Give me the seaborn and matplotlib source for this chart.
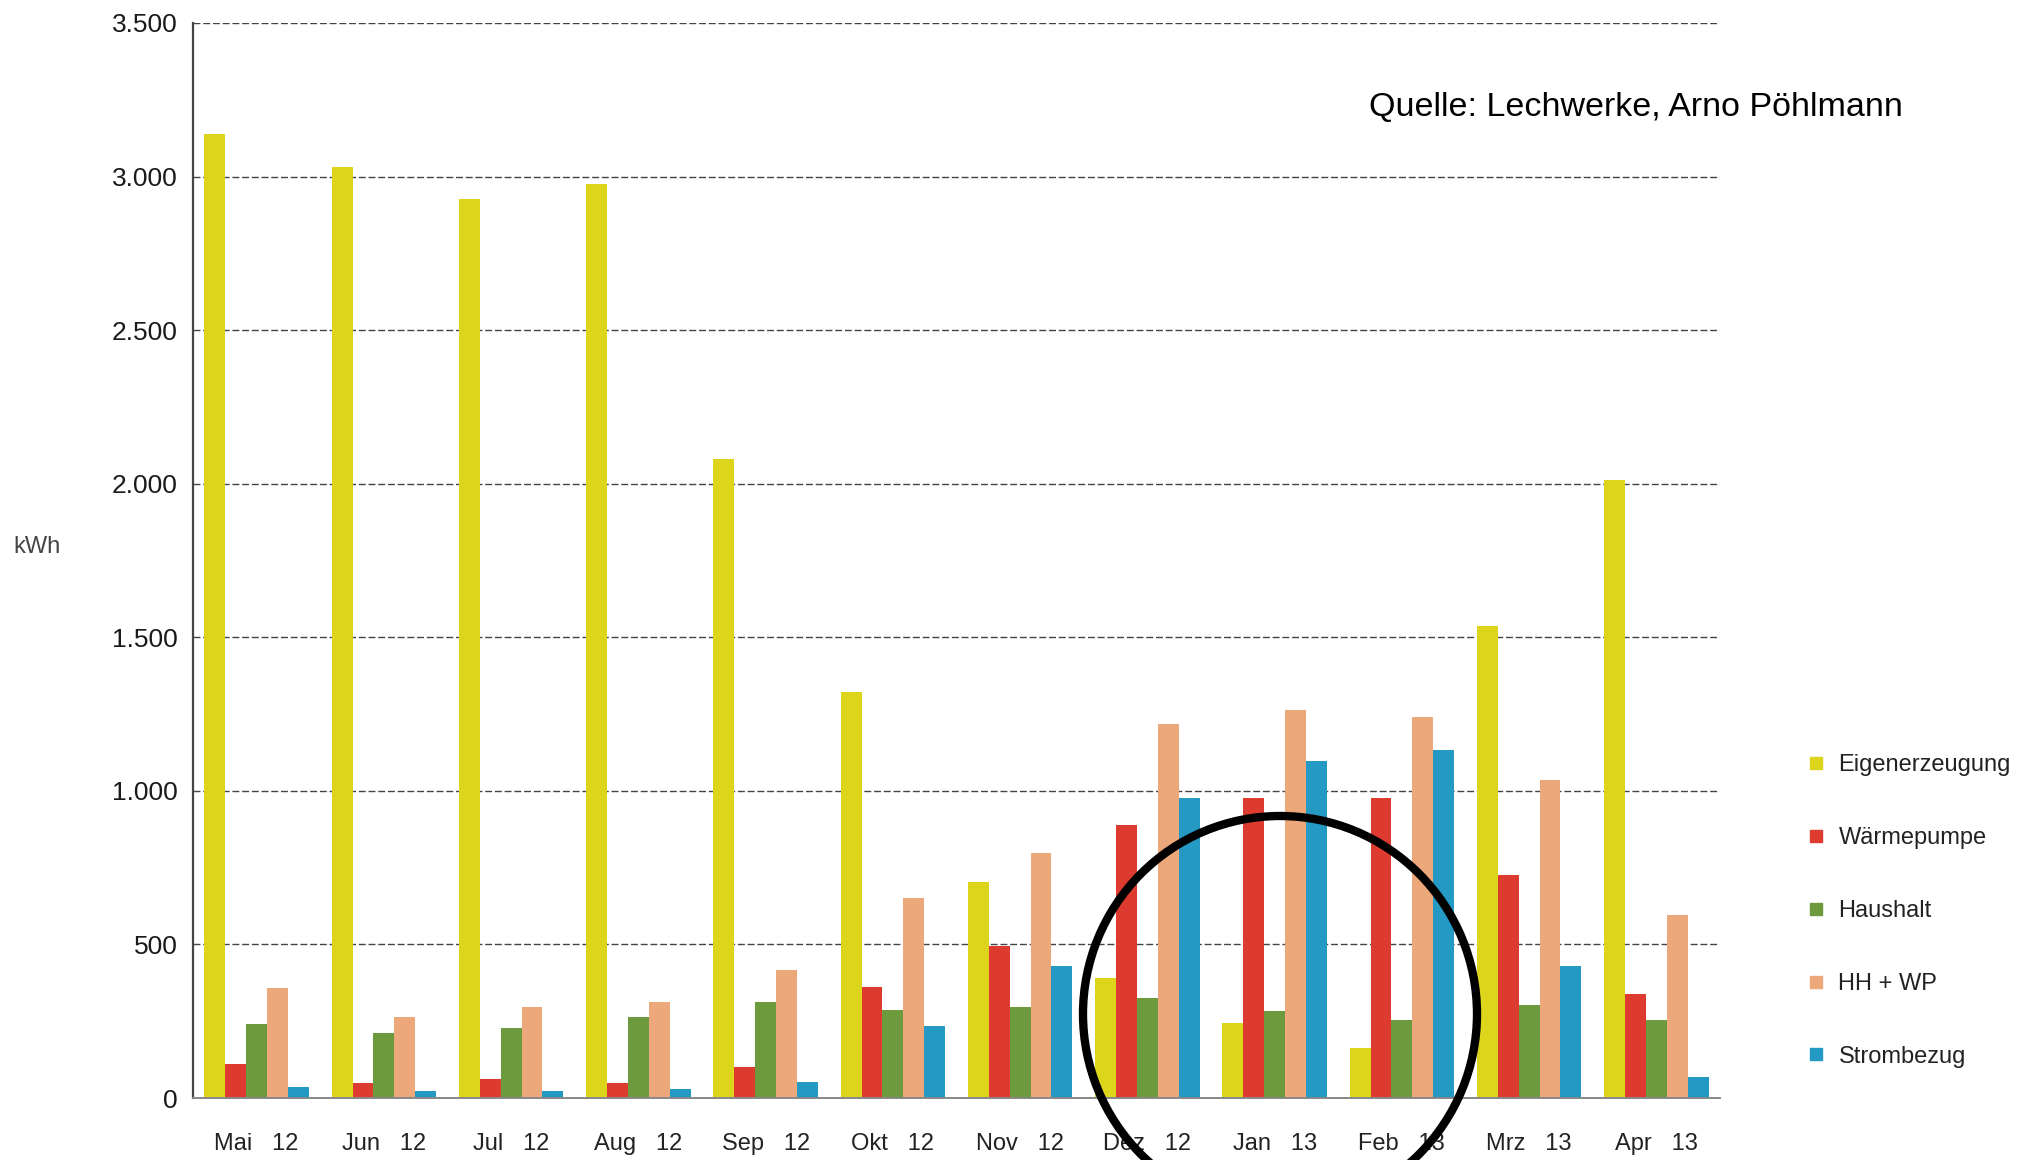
import numpy as np
import pandas as pd
import matplotlib
matplotlib.use("Agg")
import matplotlib.pyplot as plt
import seaborn as sns
from matplotlib.lines import Line2D
from matplotlib.patches import Ellipse
from matplotlib.ticker import FuncFormatter, FixedLocator

# ======================
# data (kWh per month)
# ======================
months = ["Mai   12", "Jun   12", "Jul   12", "Aug   12", "Sep   12", "Okt   12",
          "Nov   12", "Dez   12", "Jan   13", "Feb   13", "Mrz   13", "Apr   13"]
series = ["Eigenerzeugung", "Wärmepumpe", "Haushalt", "HH + WP", "Strombezug"]

eigenerzeugung = [3140, 3030, 2928, 2975, 2080, 1322, 703, 391, 243, 162, 1538, 2013]
waermepumpe = [111, 49, 63, 49, 101, 362, 496, 890, 977, 978, 727, 340]
haushalt = [242, 213, 229, 264, 311, 286, 297, 327, 282, 254, 303, 254]
hh_wp = [357, 265, 297, 313, 418, 652, 797, 1218, 1262, 1242, 1035, 595]
strombezug = [36, 22, 22, 29, 52, 235, 431, 977, 1098, 1133, 429, 69]

colors = ["#dcd51c", "#dd3b30", "#6e9a3e", "#eca77a", "#2499c4"]

df = pd.DataFrame({
    "Monat": months * 5,
    "Reihe": np.repeat(series, len(months)),
    "kWh": eigenerzeugung + waermepumpe + haushalt + hh_wp + strombezug,
})

# ======================
# plot
# ======================
sns.set_style("white")
plt.rcParams["font.family"] = ["Liberation Sans", "DejaVu Sans"]

fig = plt.figure(figsize=(20.4, 11.6), dpi=100)
ax = fig.add_axes([193 / 2040, 62 / 1160, (1720 - 193) / 2040, (1098 - 23) / 1160])

sns.barplot(data=df, x="Monat", y="kWh", hue="Reihe", order=months,
            hue_order=series, palette=colors, width=0.82, saturation=1,
            linewidth=0, legend=False, ax=ax)

ax.set_ylim(0, 3500)
ax.set_xlim(-0.5, len(months) - 0.5)
ax.yaxis.set_major_locator(FixedLocator(np.arange(0, 3501, 500)))
ax.yaxis.set_major_formatter(FuncFormatter(lambda v, p: f"{int(v):,}".replace(",", ".")))
ax.set_xlabel("")
ax.set_ylabel("")

ax.grid(axis="y", color="#444444", linestyle=(0, (5, 2)), linewidth=1.0)
ax.set_axisbelow(True)
for s in ["top", "right"]:
    ax.spines[s].set_visible(False)
ax.spines["left"].set_color("#444444")
ax.spines["left"].set_linewidth(1.6)
ax.spines["bottom"].set_color("#888888")
ax.spines["bottom"].set_linewidth(1.4)

ax.tick_params(axis="y", labelsize=19, length=6, color="#666666", pad=5, labelcolor="#1a1a1a")
ax.tick_params(axis="x", which="major", labelsize=17, length=0, pad=25, labelcolor="#222222")
ax.xaxis.set_minor_locator(FixedLocator(np.arange(0.5, len(months) - 0.5, 1)))
ax.tick_params(axis="x", which="minor", length=6, color="#888888")

fig.text(37 / 2040, 1 - 547 / 1160, "kWh", fontsize=17, color="#444444", ha="center", va="center")
fig.text(1369 / 2040, 1 - 108 / 1160, "Quelle: Lechwerke, Arno Pöhlmann", fontsize=24.5,
         color="black", ha="left", va="center")

handles = [Line2D([0], [0], marker="s", linestyle="", markersize=9, color=c) for c in colors]
fig.legend(handles, series, loc="center left", bbox_to_anchor=(1783 / 2040, 1 - 911 / 1160),
           frameon=False, fontsize=17, labelspacing=2.15, handletextpad=0.45, handlelength=1.0,
           labelcolor="#222222")

# annotation circle round Dez-Feb
fig.patches.append(Ellipse((1280 / 2040, 1 - 1014 / 1160), 394 / 2040, 396 / 1160,
                           transform=fig.transFigure, fill=False, edgecolor="black",
                           linewidth=6, clip_on=False))

fig.savefig("out.png", dpi=100, facecolor="white")
plt.close(fig)
